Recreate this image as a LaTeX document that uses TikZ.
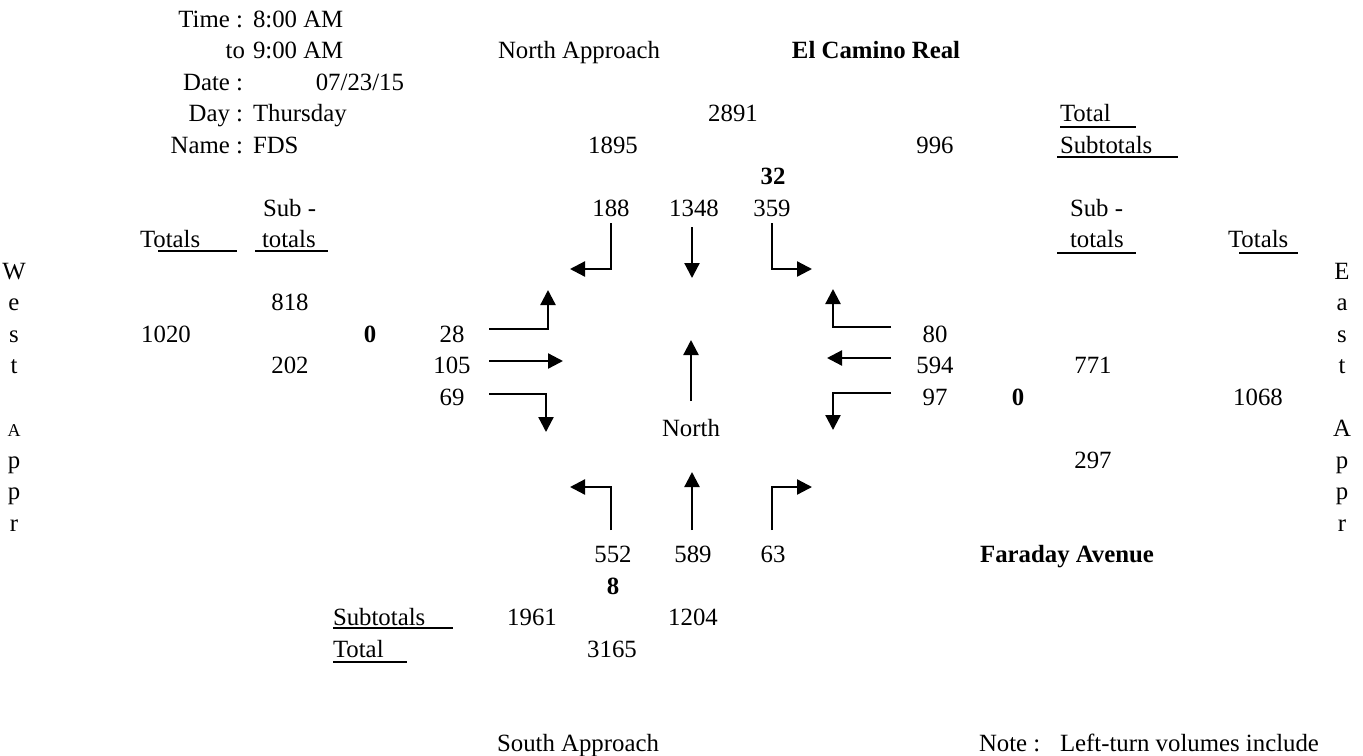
\documentclass[tikz,border=0pt]{standalone}
\usepackage{fontspec}
\setmainfont{Liberation Serif}
\usetikzlibrary{arrows.meta}
\begin{document}
\begin{tikzpicture}[x=0.5pt,y=-0.5pt,
  every node/.style={inner sep=0pt,outer sep=0pt,font=\fontsize{12.4}{12.4}\selectfont},
  ctr/.style={anchor=base},
  lft/.style={anchor=base west},
  rgt/.style={anchor=base east},
  bld/.style={font=\fontsize{12.4}{12.4}\selectfont\bfseries},
  small/.style={font=\fontsize{9}{9}\selectfont},
  flow/.style={line width=1.15pt,-{Triangle[length=7.5pt,width=7.5pt]}},
  uline/.style={line width=1.3pt}]
\useasboundingbox (0,0) rectangle (1363,755);

% header block
\node[rgt] (tTime) at (243,27) {Time :};
\node[lft] (vTime) at (253,27) {8:00 AM};
\node[rgt] (tTo) at (245,58.5) {to};
\node[lft] (vTo) at (253,58.5) {9:00 AM};
\node[rgt] (tDate) at (243,90) {Date :};
\node[rgt] (vDate) at (404,90) {07/23/15};
\node[rgt] (tDay) at (243,121.5) {Day :};
\node[lft] (vDay) at (253,121.5) {Thursday};
\node[rgt] (tName) at (243,153) {Name :};
\node[lft] (vName) at (253,153) {FDS};

\node[ctr] (napp) at (579,58.5) {North Approach};
\node[ctr,bld] (ecr) at (876,58.5) {El Camino Real};
\node[ctr] (n2891) at (733,121.5) {2891};
\node[ctr] (n1895) at (613,153) {1895};
\node[ctr] (n996) at (935,153) {996};
\node[lft] (trTotal) at (1060,121.5) {Total};
\node[lft] (trSub) at (1060,153) {Subtotals};
\node[ctr,bld] (n32) at (773,184.5) {32};

% north approach volumes
\node[ctr] (n188) at (611,216) {188};
\node[ctr] (n1348) at (694,216) {1348};
\node[ctr] (n359) at (772,216) {359};

% west headers
\node[lft] (wSub) at (263,216) {Sub -};
\node[lft] (wTot) at (140,247.5) {Totals};
\node[lft] (wtot) at (262,247.5) {totals};
% east headers
\node[lft] (eSub) at (1070,216) {Sub -};
\node[lft] (etot) at (1070,247.5) {totals};
\node[lft] (eTot) at (1228,247.5) {Totals};

% West Appr letters
\node[ctr] (wl1) at (14,279) {W};
\node[ctr] (wl2) at (14,310.5) {e};
\node[ctr] (wl3) at (14,342) {s};
\node[ctr] (wl4) at (14,373.5) {t};
\node[ctr,small] (wl5) at (14,436.5) {A};
\node[ctr] (wl6) at (14,468) {p};
\node[ctr] (wl7) at (14,499.5) {p};
\node[ctr] (wl8) at (14,531) {r};
% East Appr letters
\node[ctr] (el1) at (1342,279) {E};
\node[ctr] (el2) at (1342,310.5) {a};
\node[ctr] (el3) at (1342,342) {s};
\node[ctr] (el4) at (1342,373.5) {t};
\node[ctr] (el5) at (1342,436.5) {A};
\node[ctr] (el6) at (1342,468) {p};
\node[ctr] (el7) at (1342,499.5) {p};
\node[ctr] (el8) at (1342,531) {r};

% west numbers
\node[ctr] (n818) at (290,310.5) {818};
\node[ctr] (n1020) at (166,342) {1020};
\node[ctr] (n202) at (290,373.5) {202};
\node[ctr,bld] (w0) at (370,342) {0};
\node[ctr] (n28) at (452,342) {28};
\node[ctr] (n105) at (452,373.5) {105};
\node[ctr] (n69) at (452,405) {69};

% east numbers
\node[ctr] (n80) at (935,342) {80};
\node[ctr] (n594) at (935,373.5) {594};
\node[ctr] (n97) at (935,405) {97};
\node[ctr,bld] (e0) at (1018,405) {0};
\node[ctr] (n771) at (1093,373.5) {771};
\node[ctr] (n1068) at (1258,405) {1068};
\node[ctr] (n297) at (1093,468) {297};

\node[ctr] (north) at (691,436.5) {North};

% south
\node[ctr] (n552) at (613,562.5) {552};
\node[ctr] (n589) at (693,562.5) {589};
\node[ctr] (n63) at (773,562.5) {63};
\node[ctr,bld] (s8) at (613,594) {8};
\node[ctr,bld] (fav) at (1067,562.5) {Faraday Avenue};
\node[lft] (bSub) at (333,625.5) {Subtotals};
\node[ctr] (n1961) at (532,625.5) {1961};
\node[ctr] (n1204) at (693,625.5) {1204};
\node[lft] (bTot) at (333,657) {Total};
\node[ctr] (n3165) at (612,657) {3165};
\node[ctr] (sapp) at (578,751.5) {South Approach};
\node[lft] (note) at (979,751.5) {Note :};
\node[lft] (notetxt) at (1060,751.5) {Left-turn volumes include};

% underlines
\coordinate (u1a) at (1060,127); \coordinate (u1b) at (1136,127);
\coordinate (u2a) at (1057,157); \coordinate (u2b) at (1178,157);
\coordinate (u3a) at (255,251); \coordinate (u3b) at (328,251);
\coordinate (u4a) at (158,251); \coordinate (u4b) at (237,251);
\coordinate (u5a) at (1057,253); \coordinate (u5b) at (1136,253);
\coordinate (u6a) at (1239,253); \coordinate (u6b) at (1298,253);
\coordinate (u7a) at (333,628); \coordinate (u7b) at (453,628);
\coordinate (u8a) at (333,662); \coordinate (u8b) at (407,662);
\foreach \u in {1,...,8} \draw[uline] (u\u a) -- (u\u b);

% arrow coordinates
\coordinate (a188s) at (611,223); \coordinate (a188e) at (570,269);
\coordinate (a1348s) at (692,227); \coordinate (a1348e) at (692,278);
\coordinate (a359s) at (772,223); \coordinate (a359e) at (812,269);
\coordinate (a28s) at (489,329); \coordinate (a28e) at (548,290);
\coordinate (a105s) at (489,361); \coordinate (a105e) at (563,361);
\coordinate (a69s) at (489,394); \coordinate (a69e) at (546,432);
\coordinate (a80s) at (891,327); \coordinate (a80e) at (833,289);
\coordinate (a594s) at (891,358); \coordinate (a594e) at (827,358);
\coordinate (a97s) at (891,393); \coordinate (a97e) at (833,430);
\coordinate (aNs) at (691,401); \coordinate (aNe) at (691,340);
\coordinate (a552s) at (611,530); \coordinate (a552e) at (570,487);
\coordinate (a589s) at (692,530); \coordinate (a589e) at (692,472);
\coordinate (a63s) at (772,530); \coordinate (a63e) at (812,487);

\draw[flow] (a188s) |- (a188e);
\draw[flow] (a1348s) -- (a1348e);
\draw[flow] (a359s) |- (a359e);
\draw[flow] (a28s) -| (a28e);
\draw[flow] (a105s) -- (a105e);
\draw[flow] (a69s) -| (a69e);
\draw[flow] (a80s) -| (a80e);
\draw[flow] (a594s) -- (a594e);
\draw[flow] (a97s) -| (a97e);
\draw[flow] (aNs) -- (aNe);
\draw[flow] (a552s) |- (a552e);
\draw[flow] (a589s) -- (a589e);
\draw[flow] (a63s) |- (a63e);
\end{tikzpicture}
\end{document}
